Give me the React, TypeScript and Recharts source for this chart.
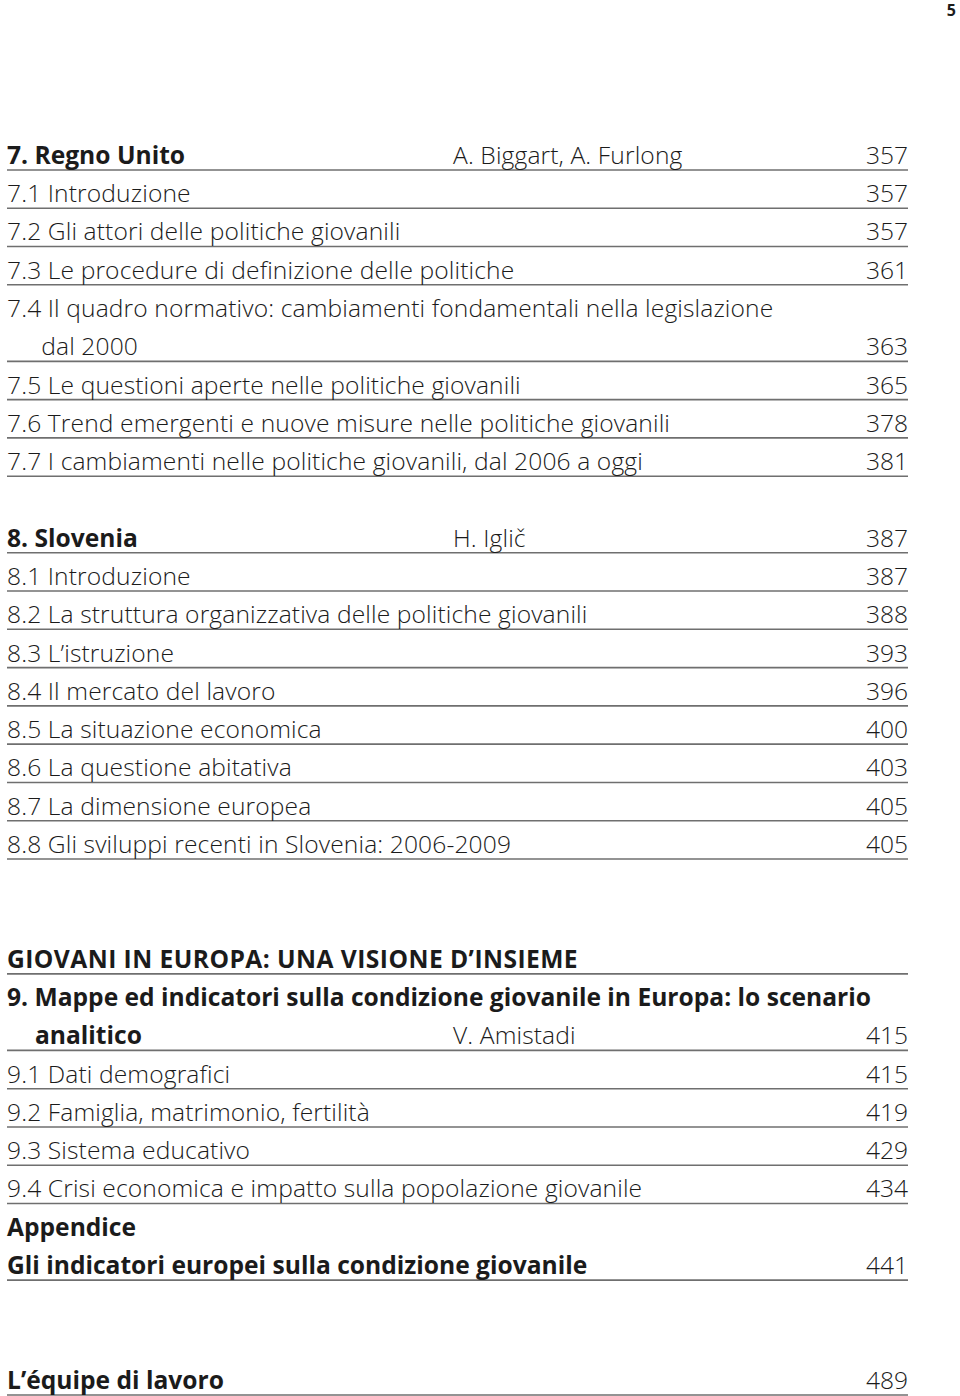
import React from "react";
import { ScatterChart, Scatter, XAxis, YAxis, ReferenceLine } from "recharts";

// table of contents rows: label, line slot, level
const tocLabels = [
    "7. Regno Unito",
    "7.1 Introduzione",
    "7.2 Gli attori delle politiche giovanili",
    "7.3 Le procedure di definizione delle politiche",
    "7.4 Il quadro normativo: cambiamenti fondamentali nella legislazione",
    "dal 2000",
    "7.5 Le questioni aperte nelle politiche giovanili",
    "7.6 Trend emergenti e nuove misure nelle politiche giovanili",
    "7.7 I cambiamenti nelle politiche giovanili, dal 2006 a oggi",
    "8. Slovenia",
    "8.1 Introduzione",
    "8.2 La struttura organizzativa delle politiche giovanili",
    "8.3 L’istruzione",
    "8.4 Il mercato del lavoro",
    "8.5 La situazione economica",
    "8.6 La questione abitativa",
    "8.7 La dimensione europea",
    "8.8 Gli sviluppi recenti in Slovenia: 2006-2009",
    "GIOVANI IN EUROPA: UNA VISIONE D’INSIEME",
    "9. Mappe ed indicatori sulla condizione giovanile in Europa: lo scenario",
    "analitico",
    "9.1 Dati demografici",
    "9.2 Famiglia, matrimonio, fertilità",
    "9.3 Sistema educativo",
    "9.4 Crisi economica e impatto sulla popolazione giovanile",
    "Appendice",
    "Gli indicatori europei sulla condizione giovanile",
    "L’équipe di lavoro",
];
const tocSlots = [0, 1, 2, 3, 4, 5, 6, 7, 8, 10, 11, 12, 13, 14, 15, 16, 17, 18, 21, 22, 23, 24, 25, 26, 27, 28, 29, 32];
const tocLevels = [
    "chapter", "section", "section", "section", "section", "cont", "section", "section", "section",
    "chapter", "section", "section", "section", "section", "section", "section", "section", "section",
    "part", "chapter", "chapterCont", "section", "section", "section", "section",
    "chapter", "chapter", "chapter",
];

const pageNumbers = [357, 357, 357, 361, 363, 365, 378, 381, 387, 387, 388, 393, 396, 400, 403, 405, 405, 415, 415, 419, 429, 434, 441, 489];
const pageSlots = [0, 1, 2, 3, 5, 6, 7, 8, 10, 11, 12, 13, 14, 15, 16, 17, 18, 23, 24, 25, 26, 27, 29, 32];

const authorNames = ["A. Biggart, A. Furlong", "H. Iglič", "V. Amistadi"];
const authorSlots = [0, 10, 23];

const ruleSlots = [0, 1, 2, 3, 5, 6, 7, 8, 10, 11, 12, 13, 14, 15, 16, 17, 18, 21, 23, 24, 25, 26, 27, 29, 32];

const FONT = "'Open Sans', 'Noto Sans', sans-serif";
const INK = "#1b1b1b";

const levelStyle: Record<string, any> = {
    chapter: { fontWeight: 700, fontSize: 24.6 },
    chapterCont: { fontWeight: 700, fontSize: 24.6 },
    part: { fontWeight: 700, fontSize: 24.6, letterSpacing: 0.45 },
    section: { fontWeight: 300, fontSize: 24.6, letterSpacing: 0.12 },
    cont: { fontWeight: 300, fontSize: 24.6, letterSpacing: 0.12 },
};

const indentFor: Record<string, number> = { cont: 3.8, chapterCont: 3.1 };

const labelData = tocLabels.map((label, i) => ({
    x: indentFor[tocLevels[i]] ?? 0,
    slot: tocSlots[i],
    label,
    level: tocLevels[i],
}));
const pageData = pageNumbers.map((p, i) => ({ x: 100, slot: pageSlots[i], label: String(p), level: "section" }));
const authorData = authorNames.map((a, i) => ({ x: 49.5, slot: authorSlots[i], label: a, level: "section" }));

function TextMark(props: any) {
    const { cx, cy, payload, anchor } = props;
    const st = levelStyle[payload.level] || levelStyle.section;
    return (
        <text
            x={cx}
            y={cy}
            dy="0.36em"
            textAnchor={anchor}
            fontFamily={FONT}
            fontSize={st.fontSize}
            fontWeight={st.fontWeight}
            letterSpacing={anchor === "end" ? 0 : st.letterSpacing || 0}
            fill={INK}
        >
            {payload.label}
        </text>
    );
}

export default function App() {
    return (
        <div style={{ position: "relative", width: 960, height: 1396, background: "#fff" }}>
            <style>{"body{margin:0}"}</style>
            <div
                style={{
                    position: "absolute",
                    top: 2,
                    right: 4,
                    fontFamily: FONT,
                    fontWeight: 700,
                    fontSize: 16,
                    lineHeight: 1,
                    color: INK,
                }}
            >
                5
            </div>
            <ScatterChart
                width={960}
                height={1396}
                margin={{ top: 155, right: 52, bottom: 16, left: 7 }}
            >
                <XAxis type="number" dataKey="x" domain={[0, 100]} hide />
                <YAxis type="number" dataKey="slot" domain={[0, 32]} reversed hide />
                {ruleSlots.map((s) => (
                    <ReferenceLine
                        key={s}
                        y={s + 0.39}
                        stroke="#6f6f6f"
                        strokeWidth={1.6}
                        ifOverflow="visible"
                    />
                ))}
                <Scatter
                    data={labelData}
                    isAnimationActive={false}
                    shape={(p: any) => <TextMark {...p} anchor="start" />}
                />
                <Scatter
                    data={authorData}
                    isAnimationActive={false}
                    shape={(p: any) => <TextMark {...p} anchor="start" />}
                />
                <Scatter
                    data={pageData}
                    isAnimationActive={false}
                    shape={(p: any) => <TextMark {...p} anchor="end" />}
                />
            </ScatterChart>
        </div>
    );
}
